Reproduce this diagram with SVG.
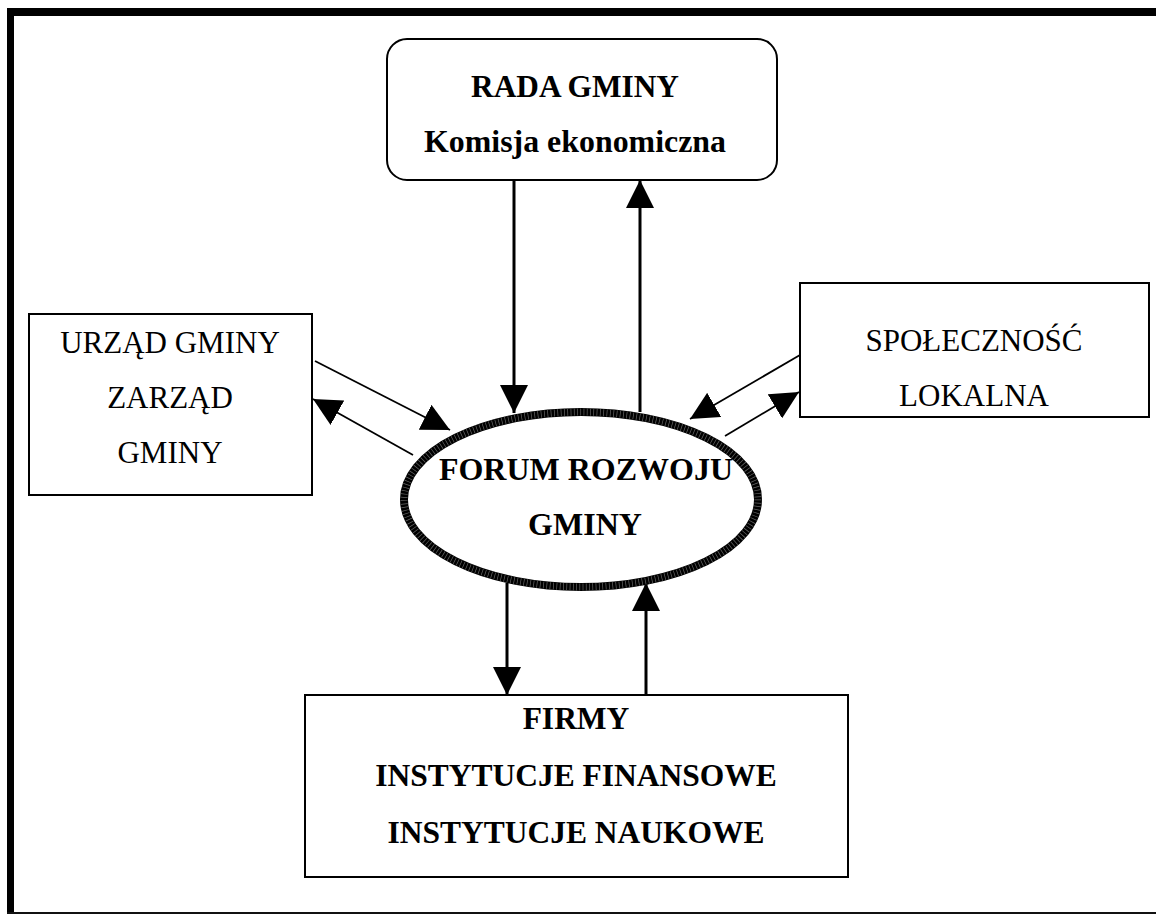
<svg xmlns="http://www.w3.org/2000/svg" width="1156" height="914" viewBox="0 0 1156 914">
  <style>
    .box { fill: #fff; stroke: #000; stroke-width: 2; }
    .reg { font-family: "Liberation Serif", "Times New Roman", serif; font-size: 31px; text-anchor: middle; fill: #000; }
    .bold { font-family: "Liberation Serif", "Times New Roman", serif; font-size: 31.5px; font-weight: bold; text-anchor: middle; fill: #000; }
    .big { font-size: 32px; }
    .thick { stroke: #000; stroke-width: 3; fill: none; }
    .thin { stroke: #000; stroke-width: 1.8; fill: none; }
  </style>
  <defs>
    <marker id="head" viewBox="0 0 28 28" refX="28" refY="14" markerWidth="28" markerHeight="28" markerUnits="userSpaceOnUse" orient="auto">
      <path d="M0,0 L28,14 L0,28 Z" fill="#000"/>
    </marker>
  </defs>

  <rect width="1156" height="914" fill="#fff"/>

  <!-- page frame: heavy top and left rules, hairline at the bottom -->
  <g id="frame">
    <rect x="7" y="8" width="1149" height="8" fill="#000"/>
    <rect x="7" y="8" width="7" height="905" fill="#000"/>
    <rect x="7" y="912" width="1149" height="2" fill="#111"/>
  </g>

  <!-- connectors -->
  <g id="connectors">
    <line class="thick" x1="514" y1="180" x2="514" y2="413" marker-end="url(#head)"/>
    <line class="thick" x1="640" y1="412" x2="640" y2="180" marker-end="url(#head)"/>
    <line class="thin" x1="315" y1="361" x2="450" y2="430" marker-end="url(#head)"/>
    <line class="thin" x1="413" y1="455" x2="313" y2="399" marker-end="url(#head)"/>
    <line class="thin" x1="800" y1="355" x2="690" y2="419" marker-end="url(#head)"/>
    <line class="thin" x1="725" y1="436" x2="799" y2="392" marker-end="url(#head)"/>
    <line class="thick" x1="507" y1="583" x2="507" y2="695" marker-end="url(#head)"/>
    <line class="thick" x1="646" y1="695" x2="646" y2="583" marker-end="url(#head)"/>
  </g>

  <g id="rada">
    <rect class="box" x="387" y="39" width="390" height="141" rx="20" ry="20"/>
    <text class="bold" x="575" y="97" textLength="208" lengthAdjust="spacingAndGlyphs">RADA GMINY</text>
    <text class="bold" x="575" y="152" textLength="302" lengthAdjust="spacingAndGlyphs">Komisja ekonomiczna</text>
  </g>

  <g id="urzad">
    <rect class="box" x="29" y="314" width="283" height="181"/>
    <text class="reg" x="170" y="353">URZĄD GMINY</text>
    <text class="reg" x="170" y="408">ZARZĄD</text>
    <text class="reg" x="170" y="463">GMINY</text>
  </g>

  <g id="spolecznosc">
    <rect class="box" x="800" y="283" width="349" height="134"/>
    <text class="reg" x="974" y="351">SPOŁECZNOŚĆ</text>
    <text class="reg" x="974" y="406">LOKALNA</text>
  </g>

  <g id="forum">
    <ellipse cx="581" cy="499.5" rx="177" ry="87.5" fill="#fff" stroke="#000" stroke-width="8"/>
    <!-- fine ticks across the heavy outline -->
    <ellipse cx="581" cy="499.5" rx="177" ry="87.5" fill="none" stroke="#666" stroke-width="7" stroke-dasharray="0.7 2.6"/>
    <text class="bold big" x="586" y="480">FORUM ROZWOJU</text>
    <text class="bold big" x="585" y="535">GMINY</text>
  </g>

  <g id="firmy">
    <rect class="box" x="305" y="695" width="543" height="182"/>
    <text class="bold" x="576" y="729">FIRMY</text>
    <text class="bold" x="576" y="786">INSTYTUCJE FINANSOWE</text>
    <text class="bold" x="576" y="843">INSTYTUCJE NAUKOWE</text>
  </g>
</svg>
